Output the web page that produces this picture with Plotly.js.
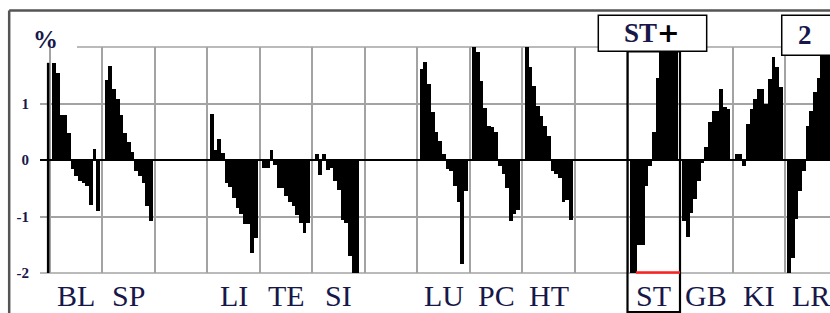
<!DOCTYPE html>
<html>
<head>
<meta charset="utf-8">
<script src="https://cdn.plot.ly/plotly-3.0.1.min.js"></script>
<style>html,body{margin:0;padding:0;background:#fff;}#chart{width:830px;height:313px;}</style>
</head>
<body>
<div id="chart"></div>
<script>
// Group labels and the column (between grid lines) each group occupies
const labels    = ['BL','SP','LI','TE','SI','LU','PC','HT','ST','GB','KI','LR'];
const labelCols = [0, 1, 3, 4, 5, 7, 8, 9, 11, 12, 13, 14];

// Values (%), left to right within each group
const BL = [1.71, 1.54, 0.79, 0.79, 0.48, -0.16, -0.28, -0.37, -0.40, -0.46, -0.79, 0.19, -0.90];
const SP = [1.41, 1.66, 1.25, 1.08, 0.79, 0.48, 0.31, 0.14, -0.20, -0.28, -0.40, -0.81, -1.08];
const LI = [0.81, 0.18, 0.38, 0.12, -0.41, -0.47, -0.68, -0.85, -0.96, -1.14, -1.14, -1.64, -1.38];
const TE = [-0.15, -0.15, 0.18, -0.08, -0.50, -0.50, -0.64, -0.74, -0.82, -0.97, -1.12, -1.29, -1.12];
const SI = [0.10, -0.26, 0.10, -0.18, -0.14, -0.38, -0.53, -1.06, -1.12, -1.70, -2.00, -2.00, 0];
const LU = [1.61, 1.73, 1.34, 0.85, 0.49, 0.34, 0.10, -0.16, -0.20, -0.46, -0.75, -1.84, -0.55];
const PC = [2.05, 1.92, 1.40, 0.92, 0.60, 0.58, 0.50, -0.10, -0.25, -0.50, -1.08, -0.95, -0.88];
const HT = [2.05, 1.64, 1.31, 0.96, 0.78, 0.61, 0.43, -0.20, -0.25, -0.32, -0.74, -0.70, -1.07];
const ST = [-2.30, -2.30, -1.50, -1.50, -0.46, -0.10, 0.49, 1.46, 2.30, 2.30, 2.30, 2.30, 2.30];
const GB = [-1.08, -1.37, -0.93, -0.69, -0.37, -0.05, 0.23, 0.67, 0.87, 0.87, 1.26, 0.94, 0.90];
const KI = [0.10, 0.10, -0.10, 0.64, 0.90, 1.08, 1.26, 1.26, 1.00, 1.43, 1.82, 1.64, 1.29];
const LR = [-2.05, -1.73, -1.05, -0.55, -0.19, 0.60, 0.87, 1.20, 1.46, 2.20, 2.20, 2.20, 2.20];

const groupValues = [BL, SP, LI, TE, SI, LU, PC, HT, ST, GB, KI, LR];

const yTickVals = [-2, -1, 0, 1, 2];
const yTickText = ['-2', '-1', '0', '1', ''];

// bar positions come from the linear x axis (one unit per column)
const slotW = 0.07, lead = 0.045;
const xs = [], ys = [];
groupValues.forEach((vals, g) => {
  vals.forEach((v, j) => {
    xs.push(labelCols[g] + lead + slotW * (j + 0.5));
    ys.push(v);
  });
});

const textCol = '#17174a';
const serif = 'Liberation Serif';
const gridCol = '#a3a3a3';

const trace = {
  type: 'bar', x: xs, y: ys, width: slotW * 1.02,
  marker: {color: '#000', line: {width: 0}},
  hoverinfo: 'skip', showlegend: false
};

const gridVals = [];
for (let c = 0; c <= 15; c++) gridVals.push(c);

const annotations = labels.map((t, i) => ({
  xref: 'x', yref: 'paper', x: labelCols[i] + 0.5, y: -0.10,
  text: t, showarrow: false, xanchor: 'center', yanchor: 'middle',
  font: {family: serif, size: 30, color: textCol}
}));
annotations.push({xref: 'paper', yref: 'paper', x: 0.007, y: 1.035, text: '%', showarrow: false,
  xanchor: 'center', yanchor: 'middle', font: {family: serif, size: 25, color: textCol, weight: 'bold'}});
annotations.push({xref: 'paper', yref: 'paper', x: 0.7753, y: 1.062,
  text: 'ST<span style="font-family:DejaVu Sans;color:#000">+</span>', showarrow: false,
  xanchor: 'center', yanchor: 'middle', font: {family: serif, size: 27, color: textCol, weight: 'bold'}});
annotations.push({xref: 'paper', yref: 'paper', x: 0.968, y: 1.055, text: '2', showarrow: false,
  xanchor: 'center', yanchor: 'middle', font: {family: serif, size: 27, color: textCol, weight: 'bold'}});

const shapes = [
  // outer frame (top and left)
  {type: 'line', xref: 'paper', yref: 'paper', x0: -0.039, x1: 1.05, y0: 1.162, y1: 1.162, line: {color: '#555', width: 2.5}},
  {type: 'line', xref: 'paper', yref: 'paper', x0: -0.039, x1: -0.039, y0: 1.162, y1: -0.2, line: {color: '#555', width: 2.5}},
  // grid lines at the top and bottom edges of the value range
  {type: 'line', xref: 'paper', yref: 'paper', x0: 0.0468, x1: 1, y0: 1, y1: 1, line: {color: gridCol, width: 1.6}, layer: 'below'},
  {type: 'line', xref: 'paper', yref: 'paper', x0: 0, x1: 1, y0: 0, y1: 0, line: {color: gridCol, width: 1.6}, layer: 'below'},
  // separator line at left of BL
  {type: 'line', xref: 'x', yref: 'y', x0: -0.035, x1: -0.035, y0: -2, y1: 1.72, line: {color: '#000', width: 2.5}},
  // ST frame
  {type: 'rect', xref: 'x', yref: 'paper', x0: 11, x1: 12, y0: -0.1726, y1: 0.981, line: {color: '#000', width: 2.2}, fillcolor: 'rgba(0,0,0,0)'},
  // red line at -2 in ST column
  {type: 'line', xref: 'x', yref: 'paper', x0: 11.16, x1: 12, y0: 0.002, y1: 0.002, line: {color: '#ff2020', width: 2.5}},
  // ST+ box
  {type: 'rect', xref: 'paper', yref: 'paper', x0: 0.7067, x1: 0.8439, y0: 0.981, y1: 1.140, fillcolor: '#fff', line: {color: '#000', width: 1.5}, layer: 'above'},
  // 2 box
  {type: 'rect', xref: 'paper', yref: 'paper', x0: 0.9389, x1: 1.05, y0: 0.963, y1: 1.140, fillcolor: '#fff', line: {color: '#000', width: 1.5}, layer: 'above'}
];

const layout = {
  width: 830, height: 313,
  margin: {l: 40, r: 0, t: 47, b: 40, pad: 0},
  paper_bgcolor: '#fff', plot_bgcolor: '#fff',
  bargap: 0,
  xaxis: {
    range: [-0.19, 14.857], tickvals: gridVals, showticklabels: false,
    showgrid: true, gridcolor: gridCol, gridwidth: 1.6, zeroline: false
  },
  yaxis: {
    range: [-2, 2], tickvals: yTickVals, ticktext: yTickText,
    showgrid: true, gridcolor: gridCol, gridwidth: 1.6,
    zeroline: true, zerolinecolor: '#000', zerolinewidth: 2,
    ticks: 'outside', ticklen: 7, tickcolor: 'rgba(0,0,0,0)',
    tickfont: {family: serif, size: 15, color: textCol, weight: 'bold'}
  },
  shapes: shapes,
  annotations: annotations
};

Plotly.newPlot('chart', [trace], layout, {displayModeBar: false});
</script>
</body>
</html>
